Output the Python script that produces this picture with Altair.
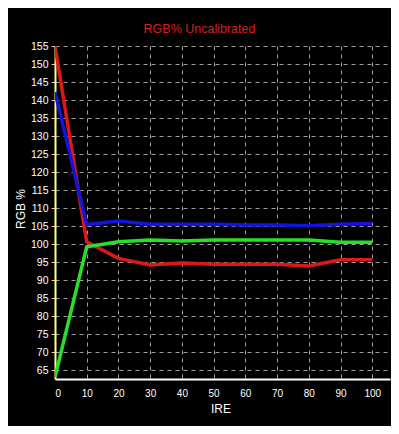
import altair as alt
import pandas as pd

ire = [0, 10, 20, 30, 40, 50, 60, 70, 80, 90, 100]
red = [155.0, 100.6, 96.0, 94.2, 94.7, 94.4, 94.4, 94.4, 93.9, 95.6, 95.6]
green = [63.0, 99.2, 100.6, 101.1, 100.8, 101.1, 101.1, 101.1, 101.1, 100.5, 100.5]
blue = [142.2, 105.4, 106.4, 105.5, 105.5, 105.5, 105.3, 105.3, 105.1, 105.5, 105.7]

x_ticks = list(range(0, 101, 10))
y_ticks = list(range(65, 156, 5))

series = [("Red", red, "#dc1818"), ("Green", green, "#28e028"), ("Blue", blue, "#1414dc")]
rows = []
for name, vals, _ in series:
    for x, v in zip(ire, vals):
        rows.append({"IRE": x, "value": v, "channel": name})
df = pd.DataFrame(rows)

FONT = "Liberation Sans"

x_enc = alt.X(
    "IRE:Q",
    scale=alt.Scale(domain=[0, 105.6], nice=False, zero=False),
    axis=alt.Axis(
        values=x_ticks, title="IRE", format="d",
        domainColor="#ffffff", domainWidth=2,
        ticks=False, labelPadding=9,
        labelColor="#ffffff", labelFontSize=10, labelFont=FONT,
        titleColor="#ffffff", titleFontSize=12, titleFont=FONT, titleFontWeight="normal",
        titleX=165.5, titleY=29, titleAlign="center", titleBaseline="middle",
        grid=True, gridColor="#a0a0a0", gridDash=[4, 4], gridWidth=1,
    ),
)
y_enc = alt.Y(
    "value:Q",
    scale=alt.Scale(domain=[62.5, 155], nice=False, zero=False),
    axis=alt.Axis(
        values=y_ticks, title="RGB %", format="d",
        domainColor="#ffff88", domainWidth=2,
        ticks=True, tickColor="#cccccc", tickSize=4, labelPadding=3,
        labelColor="#ffffff", labelFontSize=10.5, labelFont=FONT,
        titleColor="#ffffff", titleFontSize=12, titleFont=FONT, titleFontWeight="normal",
        titleX=-35, titleY=162.5, titleAlign="center", titleBaseline="middle",
        grid=True, gridColor="#a0a0a0", gridDash=[4, 4], gridWidth=1,
    ),
)

layers = []
for name, _, col in series:
    layers.append(
        alt.Chart(df)
        .transform_filter(alt.datum.channel == name)
        .mark_line(color=col, strokeWidth=3.5, clip=True)
        .encode(x=x_enc, y=y_enc)
    )

chart = (
    alt.layer(*layers)
    .properties(
        width=335,
        height=333,
        background="#000000",
        padding={"left": 47, "top": 38, "right": 1, "bottom": 47},
        autosize=alt.AutoSizeParams(type="none"),
        title=alt.Title(
            "RGB% Uncalibrated", color="#d42020", fontSize=12.5, font=FONT,
            fontWeight="normal", anchor="middle", dx=-23, offset=6,
        ),
    )
    .configure_view(stroke=None)
)

chart.save("out.html", embed_options={"renderer": "svg", "actions": False})
